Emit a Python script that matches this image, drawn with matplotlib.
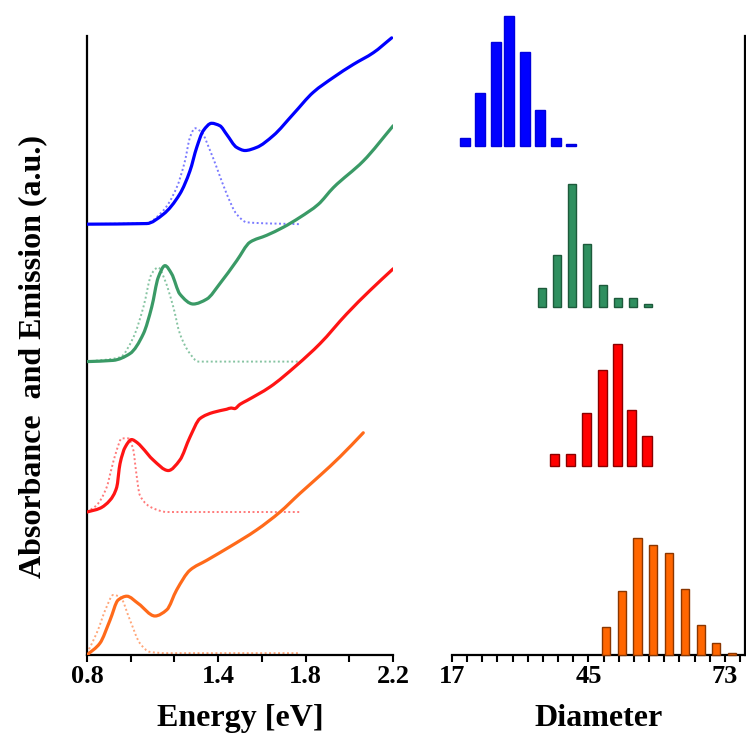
import numpy as np
import matplotlib
matplotlib.use("Agg")
import matplotlib.pyplot as plt
from matplotlib.ticker import FixedLocator, FixedFormatter
from matplotlib.path import Path
from matplotlib.patches import PathPatch

plt.rcParams['font.family'] = ['Liberation Serif', 'DejaVu Serif']
plt.rcParams['font.weight'] = 'bold'

# ---- absorbance (solid) and emission (dotted) spectra, relative to each baseline ----
blue_abs_E = [0.80, 1.073, 1.149, 1.225, 1.271, 1.302, 1.332, 1.370, 1.408, 1.439, 1.485,
              1.523, 1.576, 1.652, 1.744, 1.835, 1.927, 2.018, 2.110, 2.194]
blue_abs = [0.00, 0.01, 0.16, 0.49, 0.86, 1.24, 1.51, 1.63, 1.59, 1.45, 1.24,
            1.19, 1.24, 1.43, 1.78, 2.13, 2.37, 2.58, 2.77, 3.01]
blue_pl_E = [0.80, 1.073, 1.149, 1.210, 1.248, 1.271, 1.294, 1.325, 1.363, 1.393, 1.439,
             1.485, 1.531, 1.774]
blue_pl = [0.00, 0.02, 0.22, 0.59, 1.02, 1.40, 1.55, 1.48, 1.19, 0.92, 0.49,
           0.16, 0.03, 0.00]

green_abs_E = [0.80, 0.920, 0.997, 1.058, 1.096, 1.126, 1.157, 1.187, 1.225, 1.286, 1.348,
               1.408, 1.485, 1.546, 1.622, 1.698, 1.774, 1.858, 1.927, 2.064, 2.201]
green_abs = [0.00, 0.02, 0.13, 0.45, 0.88, 1.36, 1.55, 1.42, 1.09, 0.93, 1.01,
             1.26, 1.63, 1.93, 2.04, 2.17, 2.33, 2.54, 2.81, 3.24, 3.81]
green_pl_E = [0.80, 0.951, 1.012, 1.058, 1.096, 1.126, 1.157, 1.195, 1.225, 1.271, 1.309, 1.782]
green_pl = [0.00, 0.07, 0.39, 0.88, 1.42, 1.52, 1.31, 0.88, 0.45, 0.13, 0.00, 0.00]

red_abs_E = [0.80, 0.859, 0.905, 0.936, 0.951, 0.975, 1.004, 1.030, 1.050, 1.103, 1.172,
             1.225, 1.271, 1.317, 1.378, 1.439, 1.460, 1.475, 1.500, 1.531, 1.637, 1.759,
             1.866, 1.988, 2.095, 2.201]
red_abs = [0.00, 0.06, 0.19, 0.40, 0.78, 1.05, 1.17, 1.12, 1.05, 0.84, 0.67,
           0.84, 1.21, 1.51, 1.61, 1.66, 1.68, 1.67, 1.74, 1.80, 2.02, 2.37,
           2.72, 3.20, 3.58, 3.93]
red_pl_E = [0.80, 0.844, 0.890, 0.910, 0.936, 0.959, 0.988, 1.012, 1.024, 1.042, 1.103,
            1.165, 1.774]
red_pl = [0.00, 0.11, 0.40, 0.67, 1.00, 1.19, 1.19, 1.00, 0.67, 0.27, 0.06,
          0.00, 0.00]

orange_abs_E = [0.80, 0.859, 0.905, 0.943, 0.982, 1.035, 1.111, 1.165, 1.210, 1.271, 1.348,
                1.454, 1.576, 1.683, 1.774, 1.866, 1.957, 2.064]
orange_abs = [0.00, 0.19, 0.56, 0.89, 0.95, 0.83, 0.63, 0.73, 1.05, 1.37, 1.53,
              1.75, 2.02, 2.31, 2.61, 2.90, 3.20, 3.59]
orange_pl_E = [0.80, 0.844, 0.890, 0.920, 0.951, 0.997, 1.042, 1.088, 1.165, 1.774]
orange_pl = [0.03, 0.35, 0.78, 0.97, 0.94, 0.56, 0.19, 0.05, 0.03, 0.03]

spectra_offsets = [6.96, 4.74, 2.31, 0.0]

# ---- size distributions ----
blue_d = [19.7, 22.7, 26.0, 28.7, 32.0, 35.1, 38.3, 41.4]
blue_n = [8, 53, 104, 130, 94, 36, 8, 2]
green_d = [35.5, 38.5, 41.6, 44.7, 48.0, 51.1, 54.1, 57.2]
green_n = [19, 52, 123, 63, 22, 9, 9, 3]
red_d = [38.1, 41.4, 44.5, 47.8, 50.9, 53.9, 57.0]
red_n = [12, 12, 53, 96, 122, 56, 30]
orange_d = [48.6, 51.9, 55.0, 58.2, 61.5, 64.8, 68.1, 71.2, 74.4]
orange_n = [28, 64, 117, 110, 102, 66, 30, 12, 2]

hist_offsets = [8.23, 5.63, 3.06, 0.0]
hist_scale = 1 / 62.0

energy_ticks = [0.8, 1.0, 1.2, 1.4, 1.6, 1.8, 2.0, 2.2]
energy_labels = ['0.8', '', '', '1.4', '', '1.8', '', '2.2']
diam_labels = [17, 45, 73]

line_colors = ['#0000ff', '#3a9a66', '#ff1414', '#ff6a1a']
pl_colors = ['#7a7aff', '#86c4a2', '#ff7a7a', '#ffa77a']
bar_faces = ['#0000ff', '#2f8f5f', '#ff0000', '#ff6600']
bar_edges = ['#0000dd', '#1d5a3b', '#8a0000', '#8a3600']
bar_widths = [2.05, 1.6, 1.85, 1.75]


def smooth_curve(x, y):
    """Monotone cubic Hermite curve through the points, as a Bezier path."""
    x = np.asarray(x, float)
    y = np.asarray(y, float)
    h = np.diff(x)
    delta = np.diff(y) / h
    d = np.zeros_like(y)
    d[0], d[-1] = delta[0], delta[-1]
    for k in range(1, len(x) - 1):
        if delta[k - 1] * delta[k] <= 0:
            d[k] = 0.0
        else:
            w1 = 2 * h[k] + h[k - 1]
            w2 = h[k] + 2 * h[k - 1]
            d[k] = (w1 + w2) / (w1 / delta[k - 1] + w2 / delta[k])
    verts = [(x[0], y[0])]
    codes = [Path.MOVETO]
    for k in range(len(x) - 1):
        verts += [(x[k] + h[k] / 3, y[k] + d[k] * h[k] / 3),
                  (x[k + 1] - h[k] / 3, y[k + 1] - d[k + 1] * h[k] / 3),
                  (x[k + 1], y[k + 1])]
        codes += [Path.CURVE4] * 3
    return Path(verts, codes)


fig = plt.figure(figsize=(7.46, 7.45), dpi=100)
ax1 = fig.add_axes([87 / 746, 90 / 745, 306 / 746, 619 / 745])
ax2 = fig.add_axes([452 / 746, 90 / 745, 293 / 746, 619 / 745])

abs_sets = [(blue_abs_E, blue_abs), (green_abs_E, green_abs),
            (red_abs_E, red_abs), (orange_abs_E, orange_abs)]
pl_sets = [(blue_pl_E, blue_pl), (green_pl_E, green_pl),
           (red_pl_E, red_pl), (orange_pl_E, orange_pl)]

for (pe, pv), off, c in zip(pl_sets, spectra_offsets, pl_colors):
    ax1.add_patch(PathPatch(smooth_curve(pe, np.array(pv) + off), fill=False,
                            edgecolor=c, lw=1.4, ls=(0, (1, 1.3)), zorder=2))
for (ae, av), off, c in zip(abs_sets, spectra_offsets, line_colors):
    ax1.add_patch(PathPatch(smooth_curve(ae, np.array(av) + off), fill=False,
                            edgecolor=c, lw=2.3, joinstyle='round', capstyle='round',
                            zorder=3))

ax1.set_xlim(0.8, 2.2)
ax1.set_ylim(0, 10)
for s in ['top', 'right']:
    ax1.spines[s].set_visible(False)
ax1.spines['left'].set_linewidth(1.6)
ax1.spines['bottom'].set_linewidth(1.6)
ax1.yaxis.set_visible(False)
ax1.xaxis.set_major_locator(FixedLocator(energy_ticks))
ax1.xaxis.set_major_formatter(FixedFormatter(energy_labels))
ax1.tick_params(axis='x', direction='out', length=5, width=1.5, labelsize=19, pad=2)
ax1.set_xlabel('Energy [eV]', fontsize=23, fontweight='bold', labelpad=12)

hist_sets = [(blue_d, blue_n), (green_d, green_n), (red_d, red_n), (orange_d, orange_n)]
for (d, n), off, fc, ec, w in zip(hist_sets, hist_offsets, bar_faces, bar_edges, bar_widths):
    bars = ax2.bar(d, np.array(n) * hist_scale, width=w, bottom=off, color=fc,
                   edgecolor=ec, linewidth=1.0, zorder=3)
    for b in bars:
        b.set_clip_on(False)

ax2.set_xlim(17, 17 + 293 / 4.875)
ax2.set_ylim(0, 10)
for s in ['top', 'left']:
    ax2.spines[s].set_visible(False)
ax2.spines['right'].set_linewidth(1.6)
ax2.spines['bottom'].set_linewidth(1.6)
ax2.set_yticks([])
ax2.xaxis.set_major_locator(FixedLocator(diam_labels))
ax2.xaxis.set_minor_locator(FixedLocator(np.arange(17, 78, 28 / 9)))
ax2.tick_params(axis='x', which='both', direction='out', length=5, width=1.5,
                labelsize=19, pad=2)
ax2.set_xlabel('Diameter', fontsize=23, fontweight='bold', labelpad=12)

fig.text(33 / 746, 1 - 357 / 745, 'Absorbance  and Emission (a.u.)', rotation=90,
         ha='center', va='center', fontsize=23, fontweight='bold')

fig.savefig('out.png', dpi=100)
